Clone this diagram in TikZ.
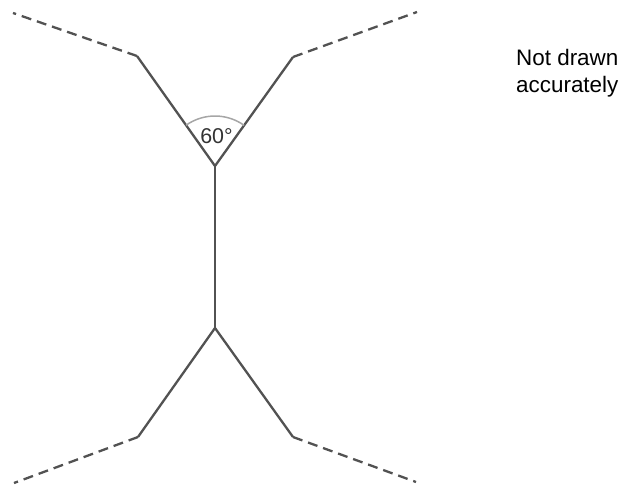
\documentclass[tikz,border=0pt]{standalone}
\usepackage{fontspec}
\setmainfont{Liberation Sans}
\begin{document}
\begin{tikzpicture}[x=1bp,y=-1bp,
  solidline/.style={draw=black!68, line width=2.3bp, line join=round},
  dashline/.style={draw=black!68, line width=2.3bp, dash pattern=on 10bp off 6bp},
  anglearc/.style={draw=black!35, line width=1.5bp},
  lbl/.style={inner sep=0pt, text=black!80, font=\fontsize{21.5}{26}\selectfont}]
\useasboundingbox (0,0) rectangle (629,487);
\coordinate (tl) at (13,13);
\coordinate (tlc) at (137,56);
\coordinate (tv) at (215,166);
\coordinate (trc) at (293,57);
\coordinate (tr) at (417,12);
\coordinate (bv) at (215,328);
\coordinate (blc) at (138,437);
\coordinate (bl) at (14,483);
\coordinate (brc) at (293,437);
\coordinate (br) at (416,482);
% dashed ends
\draw[dashline] (tlc) -- (tl);
\draw[dashline] (trc) -- (tr);
\draw[dashline] (blc) -- (bl);
\draw[dashline] (brc) -- (br);
% solid parts
\draw[solidline] (tlc) -- (tv) -- (trc);
\draw[solidline] (tv) -- (bv);
\draw[solidline] (blc) -- (bv) -- (brc);
% angle arc
\draw[anglearc] (tv) ++(125.3:50bp) arc[start angle=125.3, end angle=54.4, radius=50bp];
\node[lbl] (ang) at (216.5,136) {60°};
\node[lbl, anchor=north west, align=left, font=\fontsize{22.5}{27}\selectfont, text=black] (note) at (516,49) {Not drawn\\accurately};
\end{tikzpicture}
\end{document}
